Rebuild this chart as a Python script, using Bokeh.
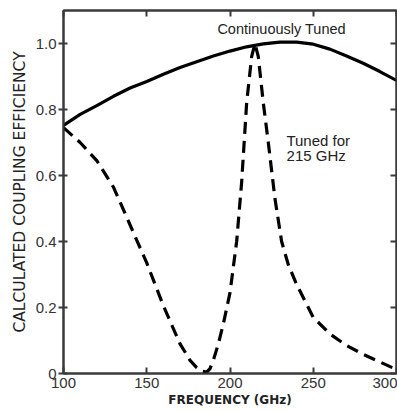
from bokeh.plotting import figure
from bokeh.models import Range1d, LinearAxis, FixedTicker, Label
from bokeh.embed import file_html
from bokeh.resources import INLINE

# Data
freq_cont = [100, 110, 120, 130, 140, 150, 160, 170, 180, 190, 200, 210, 220,
             230, 240, 250, 260, 270, 280, 290, 300]
eff_cont = [0.752, 0.785, 0.812, 0.840, 0.865, 0.885, 0.907, 0.927, 0.945, 0.962,
            0.977, 0.990, 0.999, 1.004, 1.004, 0.998, 0.983, 0.962, 0.940, 0.915, 0.888]

freq_215 = [100, 110, 120, 130, 140, 150, 160, 170, 176, 180, 183, 186, 188, 190,
            193, 196, 200, 204, 207, 210, 213, 215, 217, 220, 223, 227, 231, 235,
            240, 250, 260, 270, 280, 290, 300]
eff_215 = [0.745, 0.700, 0.645, 0.565, 0.450, 0.335, 0.205, 0.090, 0.040, 0.018,
           0.007, 0.004, 0.015, 0.040, 0.090, 0.150, 0.245, 0.400, 0.580, 0.820,
           0.960, 1.000, 0.960, 0.820, 0.700, 0.530, 0.400, 0.330, 0.270, 0.170,
           0.120, 0.085, 0.058, 0.035, 0.012]

x_ticks = [100, 150, 200, 250, 300]
y_ticks = [0, 0.2, 0.4, 0.6, 0.8, 1.0]
y_tick_labels = {0: "0", 0.2: "0.2", 0.4: "0.4", 0.6: "0.6", 0.8: "0.8", 1.0: "1.0"}

FONT = "Liberation Sans"
LABEL_FONT = "DejaVu Sans"
AX = "#3a3a3a"

p = figure(width=397, height=412, output_backend="svg", toolbar_location=None,
           x_range=Range1d(100, 300), y_range=Range1d(0, 1.1),
           x_axis_label="FREQUENCY (GHz)",
           y_axis_label="CALCULATED COUPLING EFFICIENCY",
           min_border_left=63, min_border_right=1, min_border_top=10,
           min_border_bottom=39)
p.background_fill_color = "white"
p.border_fill_color = "white"
p.outline_line_color = AX
p.outline_line_width = 2
p.xgrid.grid_line_color = None
p.ygrid.grid_line_color = None

xa = p.xaxis[0]
xa.ticker = FixedTicker(ticks=x_ticks)
xa.major_tick_in = 6
xa.major_tick_out = 0
xa.minor_tick_line_color = None
xa.axis_line_color = AX
xa.axis_line_width = 2
xa.major_tick_line_color = AX
xa.major_tick_line_width = 2
xa.major_label_text_font = FONT
xa.major_label_text_font_size = "15px"
xa.major_label_text_color = "#333333"
xa.major_label_standoff = 4
xa.axis_label_text_font = LABEL_FONT
xa.axis_label_text_font_size = "12px"
xa.axis_label_text_font_style = "bold"
xa.axis_label_text_color = "#222222"
xa.axis_label_standoff = 2

ya = p.yaxis[0]
ya.ticker = FixedTicker(ticks=y_ticks)
ya.major_label_overrides = y_tick_labels
ya.major_tick_in = 4
ya.major_tick_out = 5
ya.minor_tick_line_color = None
ya.axis_line_color = AX
ya.axis_line_width = 2
ya.major_tick_line_color = AX
ya.major_tick_line_width = 2
ya.major_label_text_font = FONT
ya.major_label_text_font_size = "15px"
ya.major_label_text_color = "#333333"
ya.major_label_standoff = 2
ya.axis_label_text_font = LABEL_FONT
ya.axis_label_text_font_size = "15.5px"
ya.axis_label_text_font_style = "normal"
ya.axis_label_text_color = "#222222"
ya.axis_label_standoff = 4

right = LinearAxis(ticker=FixedTicker(ticks=y_ticks), major_tick_in=6, major_tick_out=0,
                   minor_tick_line_color=None, major_label_text_font_size="1px",
                   major_label_text_color=None,
                   axis_line_color=AX, axis_line_width=2, major_tick_line_color=AX,
                   major_tick_line_width=2, major_label_standoff=0)
p.add_layout(right, "right")
top = LinearAxis(ticker=FixedTicker(ticks=x_ticks), major_tick_in=6, major_tick_out=0,
                 minor_tick_line_color=None, major_label_text_font_size="1px",
                 major_label_text_color=None,
                 axis_line_color=AX, axis_line_width=2, major_tick_line_color=AX,
                 major_tick_line_width=2, major_label_standoff=0)
p.add_layout(top, "above")

p.line(freq_cont, eff_cont, line_color="black", line_width=3.2)
p.line(freq_215, eff_215, line_color="black", line_width=3.2, line_dash="12 7")

p.add_layout(Label(x=231, y=1.045, text="Continuously Tuned", text_align="center",
                   text_baseline="middle", text_font=FONT, text_font_size="14.5px",
                   text_color="#222222"))
p.add_layout(Label(x=253, y=0.705, text="Tuned for", text_align="center",
                   text_baseline="middle", text_font=FONT, text_font_size="15px",
                   text_color="#222222"))
p.add_layout(Label(x=253, y=0.66, text="215  GHz", text_align="center",
                   text_baseline="middle", text_font=FONT, text_font_size="15px",
                   text_color="#222222"))

open("out.html", "w").write(file_html(p, INLINE))
